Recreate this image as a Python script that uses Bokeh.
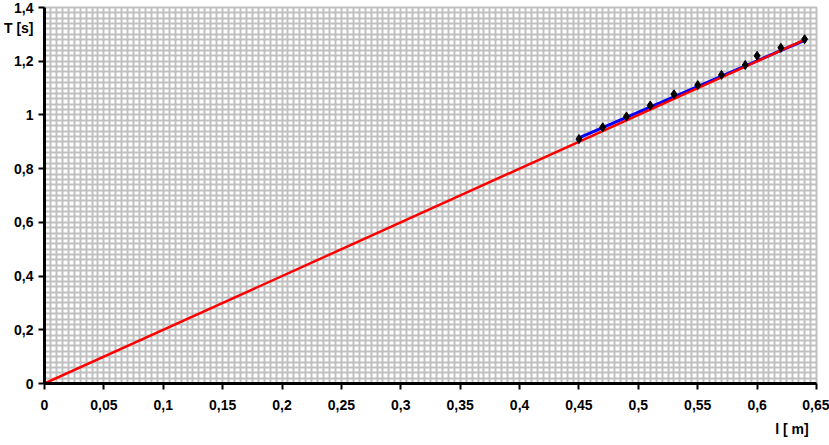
from bokeh.plotting import figure
from bokeh.models import Range1d, FixedTicker, SingleIntervalTicker, CustomJSTickFormatter, Title
from bokeh.embed import file_html
from bokeh.resources import INLINE

# data
l_vals = [0.45, 0.47, 0.49, 0.51, 0.53, 0.55, 0.57, 0.59, 0.60, 0.62, 0.64]
T_vals = [0.910, 0.954, 0.994, 1.035, 1.077, 1.111, 1.149, 1.186, 1.220, 1.250, 1.282]
fit_l = [0.45, 0.64]
fit_T = [0.915, 1.278]
theory_l = [0.0, 0.64]
theory_T = [0.0, 1.28]
x_ticks = [0, 0.05, 0.1, 0.15, 0.2, 0.25, 0.3, 0.35, 0.4, 0.45, 0.5, 0.55, 0.6, 0.65]
y_ticks = [0, 0.2, 0.4, 0.6, 0.8, 1.0, 1.2, 1.4]
x_label = "l [  m]"
y_label = "T [s]"
y_label_at = 1.325  # where the y-axis title sits along the axis

FONT = "Liberation Sans"

p = figure(width=829, height=445, output_backend="svg", toolbar_location=None,
           x_range=Range1d(0, 0.65), y_range=Range1d(0, 1.4),
           min_border_left=38, min_border_right=13, min_border_top=7, min_border_bottom=62)

p.background_fill_color = "white"
p.border_fill_color = "white"
p.outline_line_color = "#c0c0c0"
p.outline_line_width = 2

code = """
if (Math.abs(tick - pos) < 1e-6) { return lbl; }
return parseFloat(tick.toFixed(2)).toString().replace('.', ',');
"""
fmt = CustomJSTickFormatter(args=dict(lbl=y_label, pos=y_label_at), code=code)

xa = p.xaxis[0]
ya = p.yaxis[0]
xa.ticker = FixedTicker(ticks=x_ticks)
ya.ticker = FixedTicker(ticks=y_ticks + [y_label_at], minor_ticks=y_ticks)

for ax in (xa, ya):
    ax.formatter = fmt
    ax.axis_line_width = 3
    ax.axis_line_color = "black"
    ax.major_label_text_font = FONT
    ax.major_label_text_font_style = "bold"
    ax.major_label_text_font_size = "14px"
    ax.major_label_text_color = "black"

xa.major_tick_line_width = 2
xa.major_tick_line_color = "black"
xa.major_tick_in = 0
xa.major_tick_out = 6
xa.minor_tick_line_color = None
xa.major_label_standoff = 10

# y: visible tick marks are drawn as minor ticks; major ticks only carry labels
ya.major_tick_line_color = None
ya.major_tick_in = 0
ya.major_tick_out = 0
ya.minor_tick_line_color = "black"
ya.minor_tick_line_width = 2
ya.minor_tick_in = 0
ya.minor_tick_out = 6
ya.major_label_standoff = 5

p.xgrid[0].ticker = SingleIntervalTicker(interval=0.005, num_minor_ticks=0)
p.ygrid[0].ticker = SingleIntervalTicker(interval=0.02, num_minor_ticks=0)
for g in (p.xgrid[0], p.ygrid[0]):
    g.grid_line_color = "#c0c0c0"
    g.grid_line_width = 2

p.line(fit_l, fit_T, line_color="#0000ff", line_width=3)
p.line(theory_l, theory_T, line_color="#ff0000", line_width=2.5)
p.scatter(l_vals, T_vals, marker="diamond", size=9, fill_color="black", line_color="black")

p.add_layout(Title(text=x_label, align="right", offset=4, standoff=12,
                   text_font=FONT, text_font_style="bold", text_font_size="14px",
                   text_color="black"), "below")

open("out.html", "w").write(file_html(p, INLINE))
